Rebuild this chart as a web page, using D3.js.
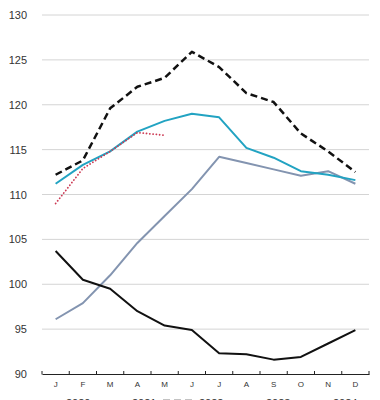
<!DOCTYPE html>
<html><head><meta charset="utf-8">
<script src="https://cdn.jsdelivr.net/npm/d3@7"></script>
<style>body{margin:0;background:#fff;overflow:hidden}svg{display:block}</style>
</head><body>
<script>
const months = ["J","F","M","A","M","J","J","A","S","O","N","D"];
const yTicks = [90,95,100,105,110,115,120,125,130];
const years = ["2020","2021","2022","2023","2024"];
const s2020 = [103.7,100.5,99.5,97.0,95.4,94.9,92.3,92.2,91.6,91.9,93.4,94.9];
const s2021 = [96.1,97.9,101.0,104.6,107.6,110.6,114.2,113.5,112.8,112.1,112.6,111.2];
const s2022 = [112.2,113.8,119.6,122.0,123.0,125.9,124.2,121.3,120.3,116.8,114.8,112.5];
const s2023 = [111.2,113.3,114.8,117.0,118.2,119.0,118.6,115.2,114.1,112.6,112.2,111.6];
const s2024 = [109.0,112.9,114.8,116.9,116.6];

const W=380,H=400;
const svg=d3.select("body").append("svg").attr("width",W).attr("height",H);
const x=d3.scaleBand().domain(d3.range(12)).range([42,369]);
const y=d3.scaleLinear().domain([90,130]).range([374,15]);
const font="'Liberation Sans', Arial, sans-serif";

svg.append("g").selectAll("line").data(yTicks.filter(d=>d>90)).join("line")
  .attr("x1",42).attr("x2",369).attr("y1",d=>y(d)).attr("y2",d=>y(d))
  .attr("stroke","#d4d4d4").attr("stroke-width",1);
svg.append("g").selectAll("text").data(yTicks).join("text")
  .attr("x",27).attr("y",d=>y(d)+4).attr("text-anchor","end")
  .attr("font-family",font).attr("font-size",11).attr("fill","#333").text(d=>d);
const xa=svg.append("g").attr("transform","translate(0,374)")
  .call(d3.axisBottom(x).tickSize(0).tickFormat(i=>months[i]).tickPadding(7));
xa.select(".domain").attr("stroke","#222").attr("stroke-width",1);
xa.selectAll("text").attr("font-family",font).attr("font-size",8).attr("fill","#333");
svg.append("g").selectAll("line").data(d3.range(13)).join("line")
  .attr("x1",i=>42+i*x.step()).attr("x2",i=>42+i*x.step())
  .attr("y1",371).attr("y2",374.5).attr("stroke","#222");

const line=d3.line().x((d,i)=>x(i)+x.bandwidth()/2).y(d=>y(d));
const styles=[
  {data:s2020,color:"#111",w:2,dash:null,cap:"butt"},
  {data:s2021,color:"#8394b0",w:2,dash:null,cap:"butt"},
  {data:s2022,color:"#111",w:2.5,dash:"7,4",cap:"butt"},
  {data:s2023,color:"#22a3c2",w:2,dash:null,cap:"butt"},
  {data:s2024,color:"#cc3b55",w:1.8,dash:"0.1,3.2",cap:"round"}
];
[1,0,3,4,2].forEach(k=>{
  const s=styles[k];
  svg.append("path").datum(s.data).attr("d",line).attr("fill","none")
    .attr("stroke",s.color).attr("stroke-width",s.w)
    .attr("stroke-dasharray",s.dash).attr("stroke-linecap",s.cap)
    .attr("stroke-linejoin","round");
});
const lx=[30,96,163,230,297];
const lg=svg.append("g").selectAll("g").data(styles).join("g");
lg.append("line").attr("x1",(d,i)=>lx[i]).attr("x2",(d,i)=>lx[i]+32)
  .attr("y1",401).attr("y2",401).attr("stroke",d=>d.color).attr("stroke-width",d=>d.w)
  .attr("stroke-dasharray",d=>d.dash).attr("stroke-linecap",d=>d.cap);
lg.append("text").attr("x",(d,i)=>lx[i]+36).attr("y",407)
  .attr("font-family",font).attr("font-size",11).attr("fill","#333").text((d,i)=>years[i]);
</script>
</body></html>
